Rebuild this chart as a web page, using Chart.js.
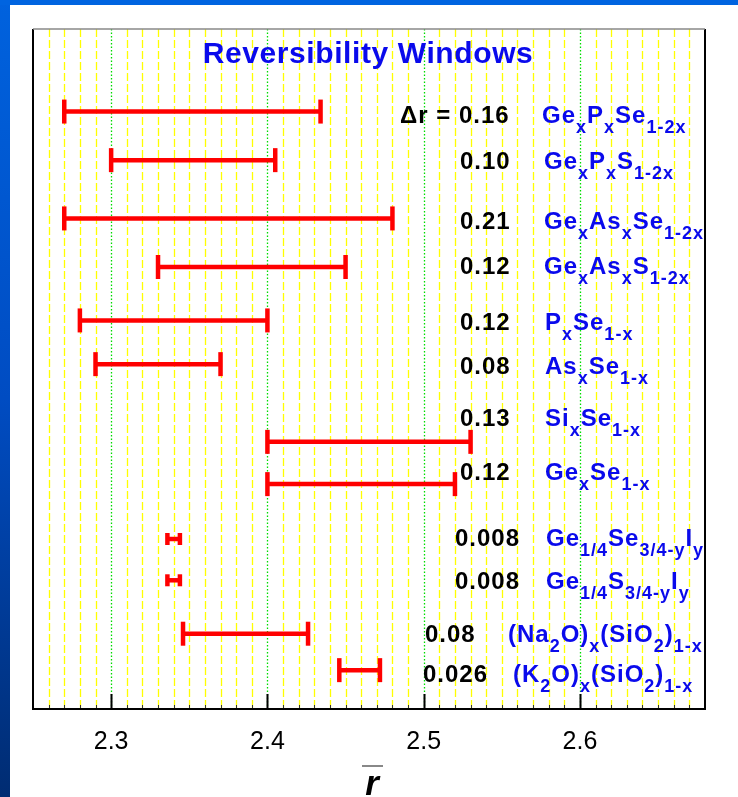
<!DOCTYPE html>
<html><head><meta charset="utf-8">
<script src="https://cdn.jsdelivr.net/npm/chart.js@4.4.0/dist/chart.umd.min.js"></script>
<style>html,body{margin:0;padding:0;background:#fff;overflow:hidden}#wrap{width:738px;height:797px;position:relative}canvas{display:block}</style>
</head><body><div id="wrap"><canvas id="c" width="738" height="797" style="width:738px;height:797px"></canvas></div>
<script>
// ---- data ----
const systems = [
  'Ge_{x}P_{x}Se_{1-2x}', 'Ge_{x}P_{x}S_{1-2x}', 'Ge_{x}As_{x}Se_{1-2x}', 'Ge_{x}As_{x}S_{1-2x}',
  'P_{x}Se_{1-x}', 'As_{x}Se_{1-x}', 'Si_{x}Se_{1-x}', 'Ge_{x}Se_{1-x}',
  'Ge_{1/4}Se_{3/4-y}I_{y}', 'Ge_{1/4}S_{3/4-y}I_{y}', '(Na_{2}O)_{x}(SiO_{2})_{1-x}', '(K_{2}O)_{x}(SiO_{2})_{1-x}'
];
const windowLow  = [2.27, 2.30, 2.27, 2.33, 2.28, 2.29, 2.40, 2.40, 2.336, 2.336, 2.346, 2.446];
const windowHigh = [2.434, 2.405, 2.48, 2.45, 2.40, 2.37, 2.53, 2.52, 2.344, 2.344, 2.426, 2.472];
const rowPosition = [12.3, 11.3, 10.1, 9.1, 8.0, 7.1, 5.5, 4.63, 3.5, 2.65, 1.55, 0.8];
const deltaLabels = ['0.16', '0.10', '0.21', '0.12', '0.12', '0.08', '0.13', '0.12', '0.008', '0.008', '0.08', '0.026'];
const labelPosition = [12.23, 11.28, 10.05, 9.12, 7.97, 7.06, 5.99, 4.88, 3.53, 2.63, 1.54, 0.72];
const xTickLabels = ['2.3', '2.4', '2.5', '2.6'];
const chartTitle = 'Reversibility Windows';
const deltaPrefix = '\u0394r =';
const axisTitle = 'r';

// ---- layout / style (not data) ----
const valueX = [459, 460, 460, 460, 460, 460, 460, 460, 455, 455, 425, 423];
const formulaX = [542, 544, 544, 544, 545, 545, 545, 545, 546, 546, 508, 513];
const FONT = '"Liberation Sans", Arial, sans-serif';
const BLUE = '#0A0AEC';
const RED = '#FF0000';

const datasets = systems.map((s, i) => ({
  label: s,
  data: [{x: windowLow[i], y: rowPosition[i]}, {x: windowHigh[i], y: rowPosition[i]}],
  showLine: true,
  borderColor: RED,
  borderWidth: 4.5,
  pointStyle: 'line',
  pointRotation: 90,
  pointRadius: (windowHigh[i] - windowLow[i]) < 0.02 ? 6 : 12,
  pointBorderColor: RED,
  pointBorderWidth: 4.5,
  pointBackgroundColor: RED,
  clip: false
}));

function setSpacing(ctx, v) { if ('letterSpacing' in ctx) ctx.letterSpacing = v; }

function drawFormula(ctx, str, x, y) {
  const parts = str.split(/(_\{[^}]*\})/).filter(s => s);
  for (const p of parts) {
    if (p.startsWith('_{')) {
      const t = p.slice(2, -1);
      ctx.font = 'bold 18px ' + FONT;
      ctx.fillText(t, x, y + 10);
      x += ctx.measureText(t).width;
    } else {
      ctx.font = 'bold 24px ' + FONT;
      ctx.fillText(p, x, y);
      x += ctx.measureText(p).width;
    }
  }
}

const decor = {
  id: 'decor',
  beforeDraw(chart) {
    const ctx = chart.ctx, W = chart.width, H = chart.height;
    ctx.save();
    ctx.fillStyle = '#fff';
    ctx.fillRect(0, 0, W, H);
    const g = ctx.createLinearGradient(0, 0, 0, H);
    g.addColorStop(0, '#0062DE');
    g.addColorStop(0.5, '#004CC2');
    g.addColorStop(1, '#002C72');
    ctx.fillStyle = g;
    ctx.fillRect(0, 0, 10, H);
    ctx.fillStyle = '#0064E0';
    ctx.fillRect(0, 0, W, 5);
    ctx.restore();
  },
  beforeDatasetsDraw(chart) {
    const ctx = chart.ctx, a = chart.chartArea, xs = chart.scales.x;
    ctx.save();
    for (let k = 226; k <= 267; k++) {
      const v = k / 100;
      const px = Math.round(xs.getPixelForValue(v)) + 0.5;
      const major = xTickLabels.includes(v.toFixed(1)) && k % 10 === 0;
      ctx.beginPath();
      if (major) { ctx.strokeStyle = '#00DD00'; ctx.setLineDash([1.5, 2]); }
      else { ctx.strokeStyle = '#FFFF00'; ctx.setLineDash([8, 3]); }
      ctx.lineWidth = 1.3;
      ctx.moveTo(px, a.top);
      ctx.lineTo(px, a.bottom);
      ctx.stroke();
      ctx.setLineDash([]);
      ctx.beginPath();
      ctx.strokeStyle = major ? '#000' : '#333';
      ctx.lineWidth = major ? 2 : 1;
      ctx.moveTo(px, a.bottom);
      ctx.lineTo(px, a.bottom - (major ? 15 : 4));
      ctx.stroke();
    }
    // title
    ctx.fillStyle = BLUE;
    ctx.font = 'bold 30px ' + FONT;
    setSpacing(ctx, '0.6px');
    ctx.textAlign = 'center';
    ctx.textBaseline = 'alphabetic';
    ctx.fillText(chartTitle, 368, 63);
    ctx.restore();
  },
  afterDatasetsDraw(chart) {
    const ctx = chart.ctx, a = chart.chartArea, ys = chart.scales.y;
    ctx.save();
    ctx.textAlign = 'left';
    ctx.textBaseline = 'alphabetic';
    setSpacing(ctx, '1px');
    for (let i = 0; i < systems.length; i++) {
      const yb = ys.getPixelForValue(labelPosition[i]) + 8;
      ctx.fillStyle = '#000';
      ctx.font = 'bold 24px ' + FONT;
      if (i === 0) ctx.fillText(deltaPrefix, 400, yb);
      ctx.fillText(deltaLabels[i], valueX[i], yb);
      ctx.fillStyle = BLUE;
      drawFormula(ctx, systems[i], formulaX[i], yb);
    }
    setSpacing(ctx, '0px');
    // frame
    ctx.lineWidth = 2;
    ctx.strokeStyle = '#000';
    ctx.beginPath();
    ctx.moveTo(a.left, a.top);
    ctx.lineTo(a.left, a.bottom);
    ctx.lineTo(a.right, a.bottom);
    ctx.lineTo(a.right, a.top);
    ctx.stroke();
    ctx.strokeStyle = '#888';
    ctx.lineWidth = 1.5;
    ctx.beginPath();
    ctx.moveTo(a.left, a.top);
    ctx.lineTo(a.right, a.top);
    ctx.stroke();
    // axis title: r with overline
    ctx.fillStyle = '#000';
    ctx.font = 'italic bold 35px ' + FONT;
    ctx.textAlign = 'center';
    ctx.fillText(axisTitle, 372, 795);
    ctx.lineWidth = 2;
    ctx.beginPath();
    ctx.moveTo(362, 766);
    ctx.lineTo(383, 766);
    ctx.stroke();
    ctx.restore();
  }
};

new Chart(document.getElementById('c'), {
  type: 'scatter',
  data: { datasets },
  options: {
    responsive: false,
    animation: false,
    devicePixelRatio: 1,
    events: [],
    layout: { padding: { left: 33, right: 33, top: 29, bottom: 28 } },
    plugins: { legend: { display: false }, tooltip: { enabled: false }, title: { display: false } },
    scales: {
      x: {
        type: 'linear', min: 2.25, max: 2.68,
        grid: { display: false, drawTicks: false },
        border: { display: false },
        afterFit(s) { s.height = 60; },
        ticks: {
          stepSize: 0.01, autoSkip: false, maxRotation: 0, padding: 18,
          color: '#000', font: { family: FONT, size: 25 },
          callback(v) { const t = Number(v).toFixed(1); return (Math.abs(v * 10 - Math.round(v * 10)) < 1e-6 && xTickLabels.includes(t)) ? t : ''; }
        }
      },
      y: { type: 'linear', min: 0, max: 14, display: false }
    }
  },
  plugins: [decor]
});
</script>
</body></html>
